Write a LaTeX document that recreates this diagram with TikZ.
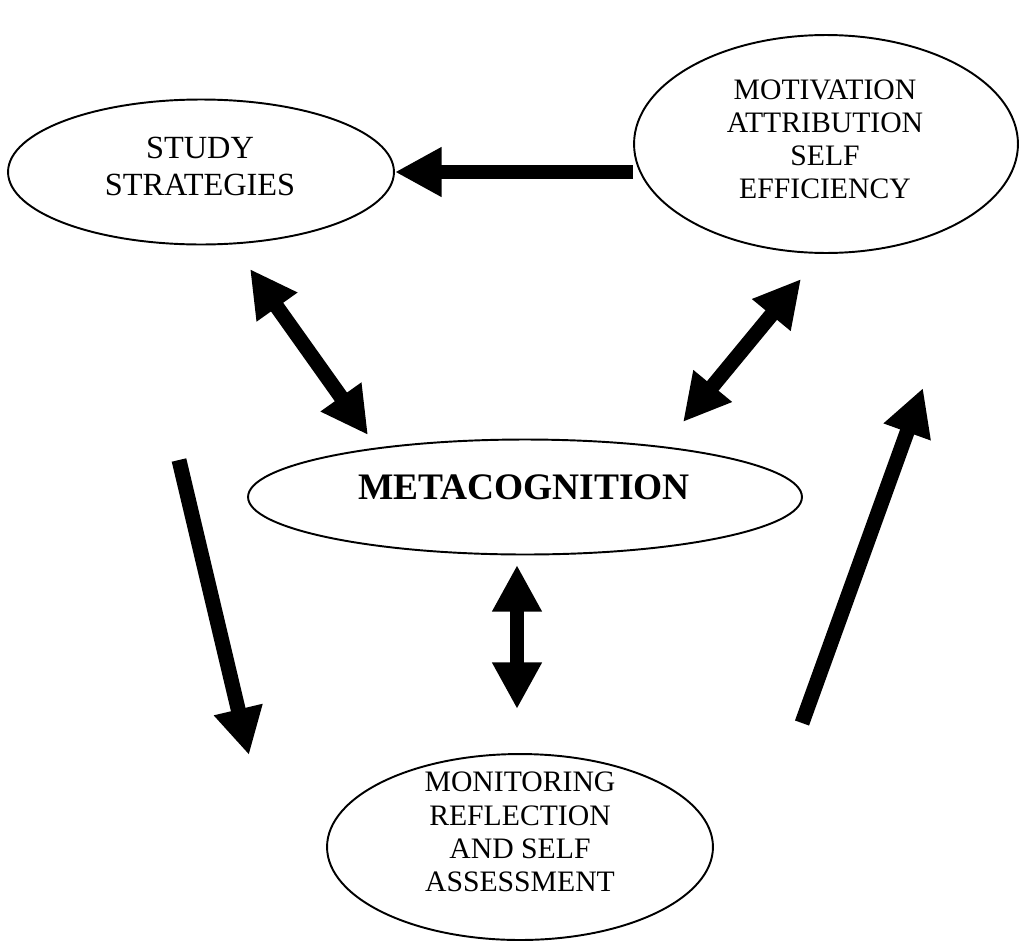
\documentclass[tikz,border=0pt]{standalone}
\usepackage{fontspec}
\setmainfont{Liberation Serif}
\usetikzlibrary{calc,arrows.meta,shapes.geometric,positioning}

\begin{document}
\begin{tikzpicture}[x=0.02cm,y=-0.02cm]

\tikzset{bubble/.style={draw,shape=ellipse,line width=1.1pt,inner sep=0pt},
bigtext/.style={align=center,font=\fontsize{18.4pt}{21.4pt}\selectfont},
smalltext/.style={align=center,font=\fontsize{16.9pt}{18.9pt}\selectfont},
fatarrow/.style={line width=8.5pt,-{Triangle[length=26.6pt,width=26.6pt]}},
fatboth/.style={line width=8.5pt,{Triangle[length=26.6pt,width=26.6pt]}-{Triangle[length=26.6pt,width=26.6pt]}}}

\useasboundingbox (0,0) rectangle (1033,943);

% Ellipses
\node[bubble,minimum width=7.72cm,minimum height=2.9cm] (study) at (201,172) {};
\node[bubble,minimum width=7.68cm,minimum height=4.36cm] (motiv) at (826,144) {};
\node[bubble,minimum width=11.08cm,minimum height=2.3cm] (meta) at (525,497) {};
\node[bubble,minimum width=7.72cm,minimum height=3.72cm] (monitor) at (520,847) {};

% Texts
\node[bigtext] (studytext) at (200,166.5) {STUDY\\STRATEGIES};
\node[smalltext] (motivtext) at (825,139.5) {MOTIVATION\\ATTRIBUTION\\SELF\\EFFICIENCY};
\node[font=\fontsize{21.3pt}{24pt}\selectfont\bfseries] (metatext) at (524,487.5) {METACOGNITION};
\node[smalltext] (monitortext) at (520,832) {MONITORING\\REFLECTION\\AND SELF\\ASSESSMENT};

% Arrow ends
\coordinate (mA) at (633,172); \coordinate (sA) at (395,172);
\coordinate (sB) at (250,269); \coordinate (mB) at (368,435);
\coordinate (vB) at (801,279); \coordinate (mC) at (683,422);
\coordinate (mD) at (517,565); \coordinate (rD) at (517,709);
\coordinate (sE) at (179,460); \coordinate (rE) at (249,755);
\coordinate (rF) at (802,723); \coordinate (vF) at (923,388);

% Arrows
\draw[fatarrow] (mA) -- (sA);
\draw[fatboth] (sB) -- (mB);
\draw[fatboth] (vB) -- (mC);
\draw[fatboth] (mD) -- (rD);
\draw[fatarrow] (sE) -- (rE);
\draw[fatarrow] (rF) -- (vF);

\end{tikzpicture}
\end{document}
